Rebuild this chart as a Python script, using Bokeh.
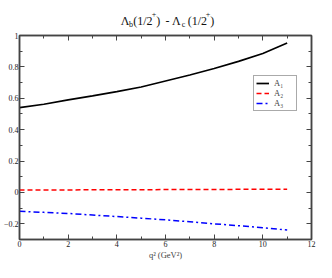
from bokeh.plotting import figure
from bokeh.layouts import column
from bokeh.models import (LinearAxis, SingleIntervalTicker, Range1d,
                          Legend, LegendItem, ColumnDataSource, CustomLabelingPolicy)
from bokeh.core.properties import value
from bokeh.embed import file_html
from bokeh.resources import INLINE

# ---- data ----
q2 = [0, 1, 2, 3, 4, 5, 6, 7, 8, 9, 10, 11]
A1 = [0.54, 0.562, 0.59, 0.615, 0.642, 0.672, 0.71, 0.748, 0.79, 0.835, 0.885, 0.952]
A2 = [0.015, 0.0155, 0.016, 0.0165, 0.017, 0.0175, 0.018, 0.0185, 0.019, 0.0195, 0.020, 0.021]
A3 = [-0.12, -0.127, -0.134, -0.144, -0.154, -0.164, -0.175, -0.187, -0.20, -0.212, -0.225, -0.24]
series_labels = ["A\u2081", "A\u2082", "A\u2083"]
x_label = "q\u00b2 (GeV\u00b2)"
title_main = ["\u039b", "(1/2", ")", "-", "\u039b", "(1/2", ")"]
title_sub = ["b", "c"]
title_sup = ["+", "+"]

FONT = "Liberation Serif"
AX = "#444444"
W = 316
TH = 28

# ---- title strip (its own small figure, data units = pixels) ----
t = figure(width=W, height=TH, output_backend="svg", toolbar_location=None,
           x_range=Range1d(0, W), y_range=Range1d(0, TH),
           min_border=0, x_axis_location=None, y_axis_location=None)
t.grid.visible = False
t.outline_line_color = None
t.border_fill_color = "white"
t.text(x=[109.5, 123, 148, 158, 165, 182, 206.5], y=[8] * 7, text=title_main,
       text_font=value(FONT), text_font_size="12px", text_color="#111111",
       text_baseline="alphabetic", text_align="left")
t.text(x=[118.5, 175.5], y=[4, 4], text=title_sub,
       text_font=value(FONT), text_font_size="8px", text_color="#111111",
       text_baseline="alphabetic", text_align="left")
t.text(x=[143, 201.5], y=[15, 15], text=title_sup,
       text_font=value(FONT), text_font_size="8px", text_color="#111111",
       text_baseline="alphabetic", text_align="left")

# ---- main plot ----
p = figure(width=W, height=262 - TH, output_backend="svg", toolbar_location=None,
           x_range=Range1d(0, 12), y_range=Range1d(-0.3, 1.0),
           min_border_left=17, min_border_right=3, min_border_top=7,
           min_border_bottom=22, x_axis_location=None, y_axis_location=None)
p.grid.visible = False
p.outline_line_color = AX
p.outline_line_width = 1.5
p.background_fill_color = "white"
p.border_fill_color = "white"

hide_labels = CustomLabelingPolicy(
    code="try { for (const i of indices) { indices.unset(i) } } catch (e) {} return indices")


def make_axis(interval, show_labels, label=None):
    ax = LinearAxis(ticker=SingleIntervalTicker(interval=interval, num_minor_ticks=2))
    ax.axis_line_color = AX
    ax.axis_line_width = 1.5
    ax.major_tick_in = 5
    ax.major_tick_out = 0
    ax.minor_tick_in = 3
    ax.minor_tick_out = 0
    ax.major_tick_line_color = AX
    ax.minor_tick_line_color = AX
    ax.major_label_text_font = FONT
    ax.major_label_text_color = "#222222"
    if show_labels:
        ax.major_label_text_font_size = "8px"
        ax.major_label_standoff = 1
    else:
        ax.major_label_text_font_size = "1px"
        ax.major_label_policy = hide_labels
        ax.major_label_standoff = 0
    if label:
        ax.axis_label = label
        ax.axis_label_text_font = FONT
        ax.axis_label_text_font_style = "normal"
        ax.axis_label_text_font_size = "8.5px"
        ax.axis_label_standoff = 0
    return ax


p.add_layout(make_axis(2, True, x_label), "below")
p.add_layout(make_axis(0.2, True), "left")
p.add_layout(make_axis(2, False), "above")
p.add_layout(make_axis(0.2, False), "right")

src = ColumnDataSource(dict(q2=q2, A1=A1, A2=A2, A3=A3))
r1 = p.line("q2", "A1", source=src, line_color="black", line_width=1.7)
r2 = p.line("q2", "A2", source=src, line_color="#ff0000", line_width=1.5, line_dash="5 3")
r3 = p.line("q2", "A3", source=src, line_color="#0000ff", line_width=1.5, line_dash="6 3 2 3")

legend = Legend(items=[LegendItem(label=series_labels[0], renderers=[r1]),
                       LegendItem(label=series_labels[1], renderers=[r2]),
                       LegendItem(label=series_labels[2], renderers=[r3])],
                location=(234, 128))
legend.label_text_font = FONT
legend.label_text_font_size = "8.5px"
legend.label_height = 8
legend.glyph_height = 8
legend.glyph_width = 13
legend.label_standoff = 5
legend.padding = 2
legend.spacing = 0
legend.margin = 0
legend.border_line_color = "#555555"
legend.border_line_width = 1
legend.background_fill_alpha = 1
p.add_layout(legend, "center")

layout = column(t, p, spacing=0)
open("out.html", "w").write(file_html(layout, INLINE))
